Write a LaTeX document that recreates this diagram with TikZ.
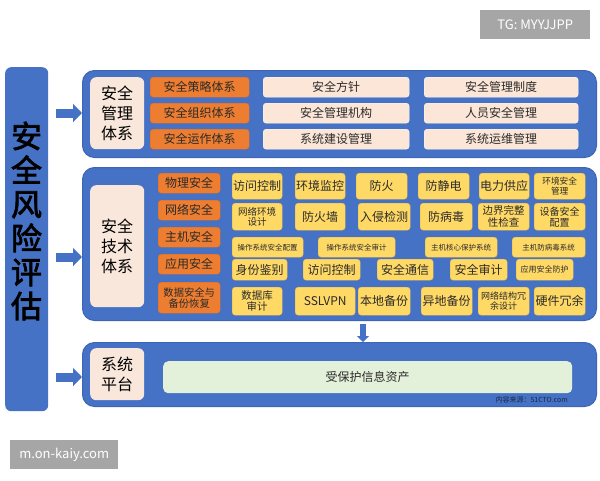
\documentclass[tikz,border=0pt]{standalone}
\usepackage{fontspec}
\setmainfont{Noto Sans CJK SC}
\newfontfamily\riskfont[FakeBold=2.5]{Noto Sans CJK SC}
\usepackage{tikz}
\usetikzlibrary{arrows.meta, calc}

\definecolor{panelblue}{HTML}{4672C6}
\definecolor{paneledge}{HTML}{3D65B5}
\definecolor{orangebox}{HTML}{ED7D31}
\definecolor{orangeedge}{HTML}{D56A25}
\definecolor{beigebox}{HTML}{FBE6D8}
\definecolor{labelbox}{HTML}{F9E7DB}
\definecolor{yellowbox}{HTML}{FFD966}
\definecolor{yellowedge}{HTML}{E5B84B}
\definecolor{greenbox}{HTML}{E3F0DA}
\definecolor{markgray}{HTML}{A6A6A6}
\definecolor{inktext}{HTML}{2B2B2B}

\newcommand{\fs}[1]{\fontsize{#1}{#1}\selectfont}

\tikzset{
    box/.style={anchor=north west, inner sep=0pt, align=center, text=inktext},
    panel/.style={box, fill=panelblue, draw=paneledge, line width=1pt, rounded corners=12pt},
    lblbox/.style={box, fill=labelbox, rounded corners=6pt, font=\fs{16}, text=black},
    obox/.style={box, fill=orangebox, draw=orangeedge, rounded corners=3pt, font=\fs{12}},
    bbox/.style={box, fill=beigebox, draw=white!85!beigebox, rounded corners=3pt, font=\fs{12}},
    ybox/.style={box, fill=yellowbox, draw=yellowedge, rounded corners=3pt, font=\fs{12}},
    gbox/.style={box, fill=greenbox, rounded corners=5pt, font=\fs{12}},
    markbox/.style={box, fill=markgray, text=white},
    fatarrow/.style={panelblue, line width=9pt, -{Triangle[length=9pt, width=18pt]}},
    thinarrow/.style={panelblue, line width=6pt, -{Triangle[length=6pt, width=12pt]}}
}

\begin{document}
\begin{tikzpicture}[x=1pt, y=-1pt]
    \useasboundingbox (0,0) rectangle (600,480);
    \fill[white] (0,0) rectangle (600,480);

    % left column
    \node[box, fill=panelblue, rounded corners=6pt, minimum width=43, minimum height=344] (risk) at (5,67) {};
    \node[font=\riskfont\fs{31}, text=black, align=center, inner sep=0pt] (risktext) at (26.5,221)
        {安\\[3pt]全\\[3pt]风\\[3pt]险\\[3pt]评\\[3pt]估};

    % panels
    \node[panel, minimum width=514, minimum height=87] (mgmt) at (82,70) {};
    \node[panel, minimum width=514, minimum height=153] (tech) at (82,167) {};
    \node[panel, minimum width=514, minimum height=64] (sys) at (82,342) {};

    \node[lblbox, minimum width=54, minimum height=72] (mgmtlbl) at (90,77) {安全\\[4pt]管理\\[4pt]体系};
    \node[lblbox, minimum width=54, minimum height=122] (techlbl) at (90,185) {安全\\[4pt]技术\\[4pt]体系};
    \node[lblbox, minimum width=54, minimum height=52] (syslbl) at (90,348) {系统\\[4pt]平台};

    % management rows
    \node[obox, minimum width=99, minimum height=20] (m1) at (150,77) {安全策略体系};
    \node[obox, minimum width=99, minimum height=20] (m2) at (150,103) {安全组织体系};
    \node[obox, minimum width=99, minimum height=20] (m3) at (150,129) {安全运作体系};
    \node[bbox, minimum width=146, minimum height=20] (m1a) at (263,77) {安全方针};
    \node[bbox, minimum width=146, minimum height=20] (m2a) at (263,103) {安全管理机构};
    \node[bbox, minimum width=146, minimum height=20] (m3a) at (263,129) {系统建设管理};
    \node[bbox, minimum width=154, minimum height=20] (m1b) at (424,77) {安全管理制度};
    \node[bbox, minimum width=154, minimum height=20] (m2b) at (424,103) {人员安全管理};
    \node[bbox, minimum width=154, minimum height=20] (m3b) at (424,129) {系统运维管理};

    % technology rows
    \node[obox, minimum width=62, minimum height=20] (t1) at (158,173) {物理安全};
    \node[obox, minimum width=62, minimum height=20] (t2) at (158,200) {网络安全};
    \node[obox, minimum width=62, minimum height=20] (t3) at (158,227) {主机安全};
    \node[obox, minimum width=62, minimum height=20] (t4) at (158,254) {应用安全};
    \node[obox, minimum width=62, minimum height=31, font=\fs{10.3}] (t5) at (158,282) {数据安全与\\[1pt]备份恢复};

    \node[ybox, minimum width=50, minimum height=26] (p1) at (232,173) {访问控制};
    \node[ybox, minimum width=50, minimum height=26] (p2) at (295,173) {环境监控};
    \node[ybox, minimum width=51, minimum height=26] (p3) at (356,173) {防火};
    \node[ybox, minimum width=51, minimum height=26] (p4) at (418,173) {防静电};
    \node[ybox, minimum width=50, minimum height=26] (p5) at (479,173) {电力供应};
    \node[ybox, minimum width=51, minimum height=26, font=\fs{8.7}] (p6) at (534,173) {环境安全\\[1pt]管理};

    \node[ybox, minimum width=50, minimum height=27, font=\fs{9.5}] (n1) at (232,203) {网络环境\\[1pt]设计};
    \node[ybox, minimum width=50, minimum height=27] (n2) at (295,203) {防火墙};
    \node[ybox, minimum width=52, minimum height=27] (n3) at (358,203) {入侵检测};
    \node[ybox, minimum width=52, minimum height=27] (n4) at (420,203) {防病毒};
    \node[ybox, minimum width=51, minimum height=27, font=\fs{10.5}] (n5) at (478,203) {边界完整\\[1pt]性检查};
    \node[ybox, minimum width=51, minimum height=27, font=\fs{10}] (n6) at (534,203) {设备安全\\[1pt]配置};

    \node[ybox, minimum width=71, minimum height=20, font=\fs{7.5}] (h1) at (232,237) {操作系统安全配置};
    \node[ybox, minimum width=77, minimum height=20, font=\fs{7.5}] (h2) at (318,237) {操作系统安全审计};
    \node[ybox, minimum width=72, minimum height=20, font=\fs{7.5}] (h3) at (425,237) {主机核心保护系统};
    \node[ybox, minimum width=73, minimum height=20, font=\fs{7.5}] (h4) at (512,237) {主机防病毒系统};

    \node[ybox, minimum width=55, minimum height=21] (a1) at (232,259) {身份鉴别};
    \node[ybox, minimum width=57, minimum height=21] (a2) at (303,259) {访问控制};
    \node[ybox, minimum width=56, minimum height=21] (a3) at (377,259) {安全通信};
    \node[ybox, minimum width=57, minimum height=21] (a4) at (450,259) {安全审计};
    \node[ybox, minimum width=57, minimum height=21, font=\fs{8}] (a5) at (516,259) {应用安全防护};

    \node[ybox, minimum width=50, minimum height=28, font=\fs{10.5}] (d1) at (232,287) {数据库\\[1pt]审计};
    \node[ybox, minimum width=60, minimum height=28] (d2) at (295,287) {SSLVPN};
    \node[ybox, minimum width=52, minimum height=28] (d3) at (358,287) {本地备份};
    \node[ybox, minimum width=51, minimum height=28] (d4) at (421,287) {异地备份};
    \node[ybox, minimum width=51, minimum height=28, font=\fs{9}] (d5) at (478,287) {网络结构冗\\[1pt]余设计};
    \node[ybox, minimum width=51, minimum height=28] (d6) at (534,287) {硬件冗余};

    % platform
    \node[gbox, minimum width=409, minimum height=32] (asset) at (163,361) {受保护信息资产};
    \node[font=\fs{7}, text=paneledge!40!black, anchor=east, inner sep=0pt] (src) at (568,400) {内容来源：51CTO.com};

    % arrows
    \coordinate (ma) at (56,113);
    \coordinate (ta) at (56,257);
    \coordinate (sa) at (56,377);
    \coordinate (da) at (363,324);
    \draw[fatarrow] (ma) -- (mgmt.west |- ma);
    \draw[fatarrow] (ta) -- (tech.west |- ta);
    \draw[fatarrow] (sa) -- (sys.west |- sa);
    \draw[thinarrow] (da) -- (da |- sys.north);

    % watermarks
    \node[markbox, minimum width=110, minimum height=29, font=\fs{13}] (tg) at (480,10) {TG: MYYJJPP};
    \node[markbox, minimum width=108, minimum height=29, font=\fs{13}] (site) at (10,440) {m.on-kaiy.com};
\end{tikzpicture}
\end{document}
